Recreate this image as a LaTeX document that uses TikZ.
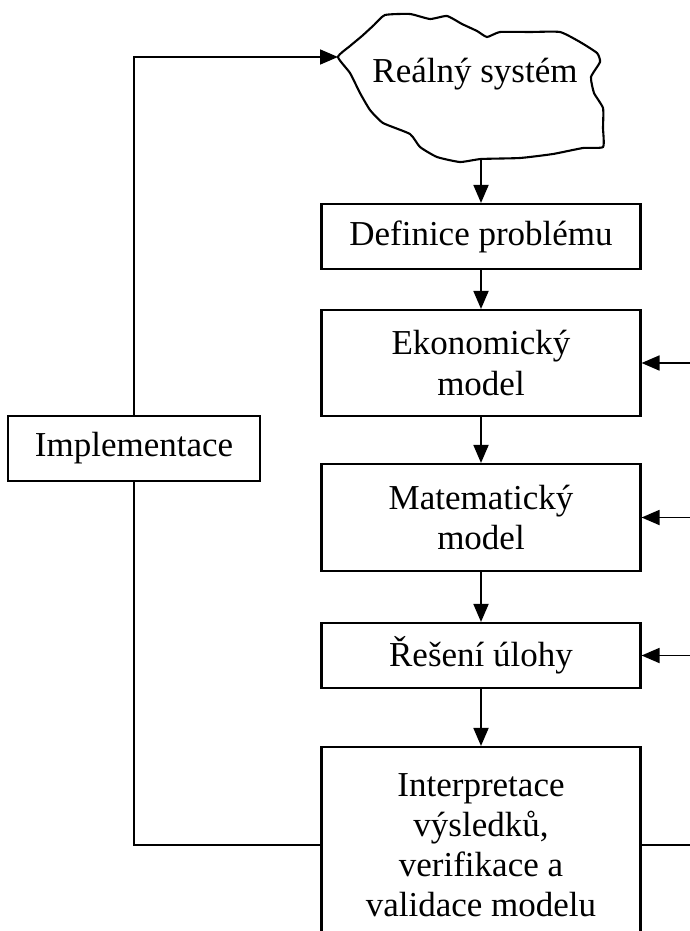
\documentclass[tikz,border=0pt]{standalone}
\usepackage{fontspec}
\setmainfont{Liberation Serif}
\usetikzlibrary{arrows.meta}
\newcommand\colx{481}

\begin{document}
\begin{tikzpicture}[x=1pt,y=-1pt,->,>={Triangle[length=18pt,width=15pt]},
                    line width=1.8pt,font=\fontsize{35}{40}\selectfont]

  \tikzstyle{block}=[rectangle,draw,line width=2.1pt,align=center,
                     minimum width=319pt,inner sep=0pt]

  \useasboundingbox (0,0) rectangle (690,931);
  \clip (0,0) rectangle (690,931);

  % cloud
  \draw[-,line width=2.1pt] plot[smooth cycle,tension=0.3] coordinates {
    (338,57) (350,46) (362,36) (374,25) (385,15) (410,14) (430,19) (447,16)
    (462,24) (477,31) (487,37) (500,32) (530,32) (560,32) (580,42) (597,53)
    (600,62) (591,77) (594,93) (603,108) (603,128) (603,147) (583,148)
    (553,154) (520,158) (481,159) (460,162) (437,157) (420,147) (410,134)
    (383,123) (370,110) (360,93) (350,73)};
  \coordinate (cloudW) at (338,57);
  \coordinate (cloudS) at (\colx,159);
  \node[anchor=base] (real) at (475,83) {Reálný systém};

  \node[block,minimum height=65pt]  (def)    at (\colx,236.5) {Definice problému};
  \node[block,minimum height=106pt] (eko)    at (\colx,363)   {Ekonomický\\model};
  \node[block,minimum height=107pt] (mat)    at (\colx,517.5) {Matematický\\model};
  \node[block,minimum height=65pt]  (res)    at (\colx,655.5) {Řešení úlohy};
  \node[block,minimum height=196pt] (interp) at (\colx,845)
       {Interpretace\\výsledků,\\verifikace a\\validace modelu};
  \node[block,minimum height=65pt,minimum width=252pt] (impl) at (134,448.5) {Implementace};

  \coordinate (rail) at (690.7,0);

  \draw (cloudS) -- (def);
  \draw (def) -- (eko);
  \draw (eko) -- (mat);
  \draw (mat) -- (res);
  \draw (res) -- (interp);

  \draw[-] (interp.west) -| (impl.south);
  \draw (impl.north) |- (cloudW);

  \draw[-] (interp.east) -- (interp.east -| rail) -- (eko.east -| rail);
  \draw (eko.east -| rail) -- (eko.east);
  \draw (mat.east -| rail) -- (mat.east);
  \draw (res.east -| rail) -- (res.east);
\end{tikzpicture}
\end{document}
